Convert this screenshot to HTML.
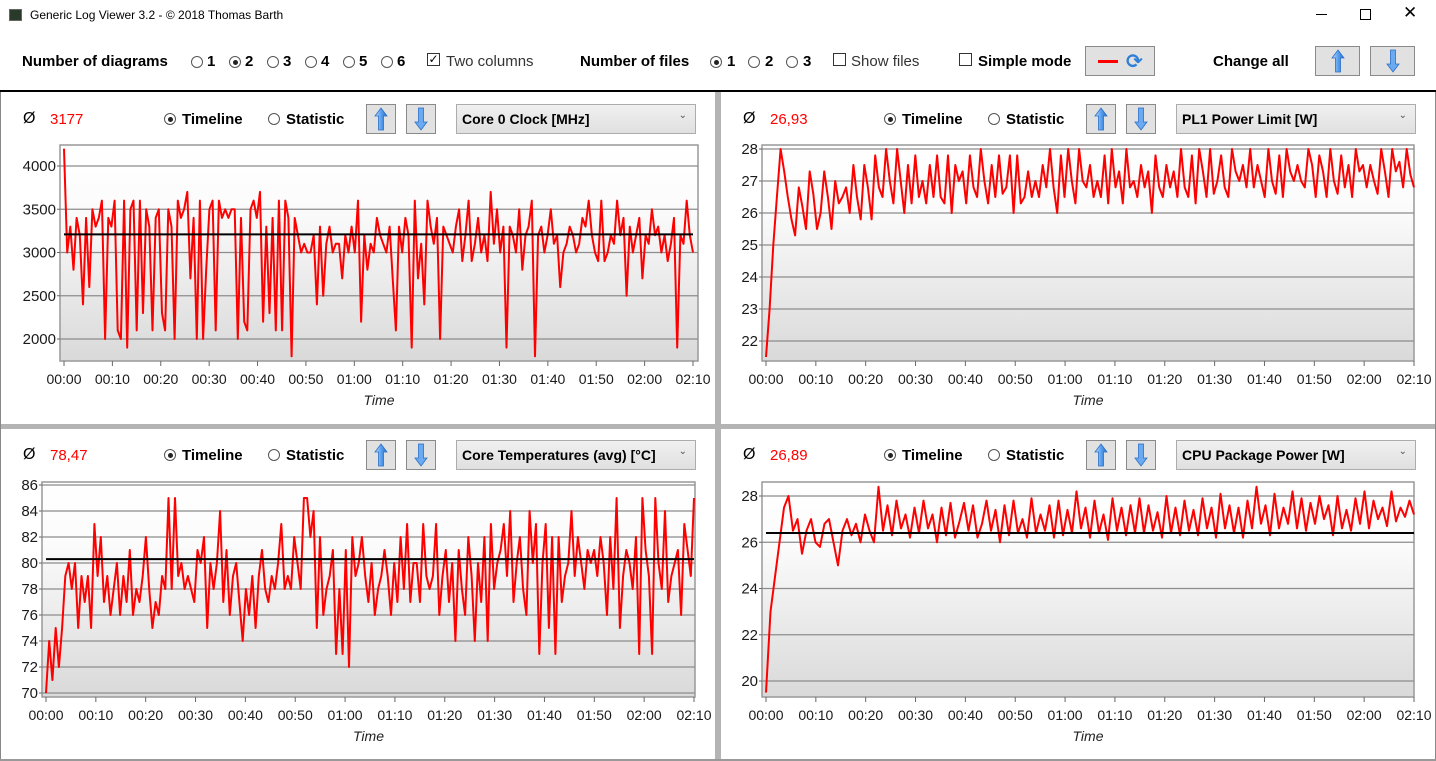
<!DOCTYPE html>
<html><head><meta charset="utf-8">
<style>
body{margin:0;width:1436px;height:761px;overflow:hidden;background:#fff;font-family:"Liberation Sans","DejaVu Sans",sans-serif;position:relative;color:#000}
.a{position:absolute;white-space:nowrap}
.b{font-weight:bold;font-size:15px}
.n{font-size:15px}
.radio{position:absolute;width:10px;height:10px;border:1px solid #555;border-radius:50%;background:#fff}
.radio.on::after{content:"";position:absolute;left:2.5px;top:2.5px;width:5px;height:5px;border-radius:50%;background:#222}
.chk{position:absolute;width:11px;height:11px;border:1px solid #333;background:#fff;font-size:12px;line-height:11px;text-align:center}
.btn{position:absolute;background:#e1e1e1;border:1px solid #8a8a8a;box-sizing:border-box}
.btn svg{position:absolute;left:50%;top:50%;transform:translate(-50%,-50%)}
.dd{position:absolute;background:linear-gradient(#f0f0f0,#e0e0e0);border:1px solid #acacac;box-sizing:border-box;font-weight:bold;font-size:14px;padding:6px 0 0 5px}
.dd span{position:absolute;right:8px;top:5px;font-size:10px;color:#555;font-weight:normal}
</style></head><body>
<div class="a" style="left:0;top:0;width:1436px;height:30px">
 <div class="a" style="left:9px;top:9px;width:11px;height:10px;background:#2a3a2a;border:1px solid #666"></div>
 <div class="a" style="left:30px;top:8px;font-size:12px">Generic Log Viewer 3.2 - © 2018 Thomas Barth</div>
 <div class="a" style="left:1316px;top:14px;width:11px;height:1px;background:#000"></div>
 <div class="a" style="left:1360px;top:9px;width:9px;height:9px;border:1px solid #000"></div>
 <div class="a" style="left:1403px;top:3px;font-size:17px">✕</div>
</div>
<div class="a b" style="left:22px;top:53px">Number of diagrams</div>
<div class="radio" style="left:191px;top:56px"></div><div class="a b" style="left:207px;top:53px">1</div>
<div class="radio on" style="left:229px;top:56px"></div><div class="a b" style="left:245px;top:53px">2</div>
<div class="radio" style="left:267px;top:56px"></div><div class="a b" style="left:283px;top:53px">3</div>
<div class="radio" style="left:305px;top:56px"></div><div class="a b" style="left:321px;top:53px">4</div>
<div class="radio" style="left:343px;top:56px"></div><div class="a b" style="left:359px;top:53px">5</div>
<div class="radio" style="left:381px;top:56px"></div><div class="a b" style="left:397px;top:53px">6</div>
<div class="chk" style="left:427px;top:53px">✓</div><div class="a n" style="left:446px;top:53px;color:#333">Two columns</div>
<div class="a b" style="left:580px;top:53px">Number of files</div>
<div class="radio on" style="left:710px;top:56px"></div><div class="a b" style="left:727px;top:53px">1</div>
<div class="radio" style="left:748px;top:56px"></div><div class="a b" style="left:765px;top:53px">2</div>
<div class="radio" style="left:786px;top:56px"></div><div class="a b" style="left:803px;top:53px">3</div>
<div class="chk" style="left:833px;top:53px"></div><div class="a n" style="left:851px;top:53px;color:#333">Show files</div>
<div class="chk" style="left:959px;top:53px"></div><div class="a b" style="left:978px;top:53px">Simple mode</div>
<div class="btn" style="left:1085px;top:46px;width:70px;height:30px">
 <div class="a" style="left:12px;top:13px;width:20px;height:3px;background:#f00"></div>
 <div class="a" style="left:40px;top:2px;font-size:20px;color:#2f7fd8;font-weight:bold">⟳</div>
</div>
<div class="a b" style="left:1213px;top:53px">Change all</div>
<div class="btn arr-up" style="left:1315px;top:46px;width:45px;height:30px"></div>
<div class="btn arr-down" style="left:1370px;top:46px;width:45px;height:30px"></div>
<div class="a" style="left:0;top:90px;width:1436px;height:2px;background:#000"></div>
<div class="a" style="left:715px;top:92px;width:6px;height:669px;background:#b4b4b4"></div>
<div class="a" style="left:0;top:424px;width:1436px;height:5px;background:#b4b4b4"></div>
<div class="a" style="left:0;top:92px;width:1px;height:669px;background:#888"></div>
<div class="a" style="left:1435px;top:92px;width:1px;height:669px;background:#888"></div>
<div class="a" style="left:0;top:759px;width:1436px;height:2px;background:#999"></div>

<div id="headers"></div>
<svg id="charts" class="a" style="left:0;top:0" width="1436" height="761">
<defs><linearGradient id="bg" x1="0" y1="0" x2="0" y2="1"><stop offset="0" stop-color="#fff"/><stop offset="0.3" stop-color="#fbfbfb"/><stop offset="1" stop-color="#d9d9d9"/></linearGradient></defs>
</svg>
<script>
const clockValues=[4200,3000,3300,2800,3400,3200,2400,3400,2600,3500,3300,3400,3600,2000,3400,3300,3600,2100,2000,3600,1900,3500,3600,2100,3600,2300,3500,3300,2100,3400,3500,2300,2100,3500,3300,2000,3600,3400,3500,3700,2700,3400,2000,3600,2000,2800,3500,3600,2100,3600,3400,3500,3400,3500,3500,2000,3400,2200,2100,3500,3600,3400,3700,2200,3300,2300,3400,2100,3600,2100,3600,3400,1800,3400,3200,3000,3100,3000,3000,3200,2400,3300,2500,3100,3300,3000,3100,3100,2700,3200,3000,3300,3000,3600,2200,3200,2800,3100,3000,3400,3200,3100,3000,3300,2700,2100,3300,3000,3400,3200,1900,3600,2700,3100,2400,3600,3300,3100,3400,2000,3300,3200,3100,3000,3300,3500,2900,3200,3600,2900,3100,3400,3000,3200,2900,3700,3100,3500,3000,3300,1900,3300,3200,3000,3500,2800,3200,3300,3600,1800,3200,3300,3000,3200,3500,3100,3200,2600,3000,3100,3300,3200,3000,3100,3400,3300,3600,3200,3000,2900,3600,2900,3000,3200,3100,3600,3200,3400,2500,3300,3000,3200,3400,2700,3200,3100,3500,3200,3300,3000,3200,2900,3100,3400,1900,3200,3100,3600,3200,3000];
const pl1Values=[21.5,23,25,26.5,28,27.3,26.5,25.8,25.3,26.8,26.2,25.5,27.3,26.6,25.5,26,27.3,26.5,25.5,27,26.3,26.5,26.8,26,27.5,26.5,25.8,27.5,26.8,25.8,27.8,26.8,26.5,28,27,26.3,28,27,26,27.5,26.3,27.8,26.5,27,26.3,27.5,26.5,27.8,26.5,26.3,27.8,26,27.5,27,27.3,26.3,27.8,26.8,26.5,28,27,26.3,27.5,26.5,27.8,26.6,26.8,27.8,26,27.8,26.3,26.5,27.3,26.5,27,26.5,27.5,26.8,28,26.8,26,27.8,26.5,28,27,26.3,28,27,26.8,27.5,26.5,27,26.5,27.8,26.3,28,26.8,27.3,26.3,28,26.8,27,26.5,27.5,26.8,27.3,26,27.8,26.8,26.5,27.5,26.8,27.3,26.5,28,26.8,26.5,27.8,26.3,28,27.3,26.5,28,26.6,27,27.8,26.8,26.5,28,27.3,27,27.5,26.8,28,26.8,27.5,27,26.5,28,27,26.6,27.8,26.5,28,27.3,27,27.5,27,26.8,28,27.5,26.5,27.8,27.3,26.5,28,27,26.6,27.8,26.8,27.5,26.5,28,27.3,27.5,26.8,27.5,27,26.6,28,27.3,26.5,28,27.3,27.6,26.8,28,27.2,26.8];
const tempValues=[70,74,71,75,72,75,79,80,78,80,75,79,77,79,75,83,79,82,77,79,76,78,80,76,79,77,81,76,78,77,79,82,78,75,77,76,79,78,85,78,85,79,80,78,79,78,77,81,80,82,75,80,78,80,84,77,81,76,79,80,77,74,78,76,79,75,79,81,78,77,79,78,80,83,78,79,78,82,80,78,85,85,82,84,75,82,76,78,79,81,73,78,73,81,72,82,79,80,82,79,77,80,76,78,79,81,79,76,80,77,82,78,83,77,80,80,77,83,79,78,79,83,76,79,81,77,80,74,81,78,76,82,79,74,80,77,82,74,83,78,80,81,83,79,84,77,80,82,78,76,84,80,83,73,80,83,75,82,73,82,77,79,80,84,79,82,80,78,81,80,81,79,82,80,76,82,78,85,75,79,81,80,78,82,73,85,81,79,73,85,80,78,84,77,79,80,81,76,83,81,79,85];
const pkgValues=[19.5,23,24.5,26,27.5,28,26.5,27,25.5,26.5,27,26,25.8,26.8,27,26,25,26.5,27,26.3,26.8,26,27.2,26.5,26,28.4,26.5,27.6,26.3,27.8,26.6,27.2,26.2,27.5,26.4,27.8,26.6,27.2,26,27.5,26.3,27.7,26.2,26.9,27.7,26.5,27.6,26.2,26.8,27.8,26.5,27.4,26,27.6,26.3,27.8,26.4,27,26.2,27.9,26.4,27.2,26.5,27.6,26.2,27.8,26.3,27.4,26.4,28.2,26.6,27.5,26.2,27.8,26.4,27.2,26.1,27.9,26.5,27.5,26.3,27.6,26.4,27.9,26.4,27.6,26.5,27.3,26.2,28,26.4,27.5,26.3,27.8,26.5,27.4,26.3,27.9,26.6,27.5,26.2,28.1,26.6,27.6,26.4,27.5,26.2,27.8,26.6,28.4,26.8,27.6,26.3,28.1,26.6,27.5,26.8,28.2,26.6,27.9,26.5,27.7,26.8,28,27,27.6,26.3,28,26.6,27.4,26.5,27.9,26.8,28.2,26.6,27.8,27,27.5,26.7,28.2,26.9,27.5,27.1,27.8,27.2];
const averages=[3210,null,80.3,26.4];
const avgLabels=["3177","26,93","78,47","26,89"];
const sensorNames=["Core 0 Clock [MHz]","PL1 Power Limit [W]","Core Temperatures (avg) [°C]","CPU Package Power [W]"];
const clockTicks=[2000,2500,3000,3500,4000];
const pl1Ticks=[22,23,24,25,26,27,28];
const tempTicks=[70,72,74,76,78,80,82,84,86];
const pkgTicks=[20,22,24,26,28];
const timeTicks=["00:00","00:10","00:20","00:30","00:40","00:50","01:00","01:10","01:20","01:30","01:40","01:50","02:00","02:10"];
const durationMin=130;

const ARROW_UP='<svg width="14" height="24" viewBox="0 0 14 24"><defs><linearGradient id="ag" x1="0" x2="1"><stop offset="0" stop-color="#bfe0ff"/><stop offset="0.5" stop-color="#5aa0ee"/><stop offset="1" stop-color="#2a70d0"/></linearGradient></defs><polygon points="7,1 13,9 9.5,9 9.5,23 4.5,23 4.5,9 1,9" fill="url(#ag)" stroke="#2c6fc7" stroke-width="0.8"/></svg>';
const ARROW_DOWN='<svg width="14" height="24" viewBox="0 0 14 24"><polygon points="7,23 13,15 9.5,15 9.5,1 4.5,1 4.5,15 1,15" fill="#6aaaf0" stroke="#2c6fc7" stroke-width="0.8"/></svg>';

const svg=document.getElementById('charts');
const NS='http://www.w3.org/2000/svg';
function mk(tag,attrs,parent){const e=document.createElementNS(NS,tag);for(const k in attrs)e.setAttribute(k,attrs[k]);(parent||svg).appendChild(e);return e;}
const charts=[
 {v:clockValues,t:clockTicks,box:[60,145,698,361],x0:64,x1:693,ya:[2000,339],yb:[4000,166],px:0,py:90},
 {v:pl1Values,t:pl1Ticks,box:[762,145,1414,361],x0:766,x1:1414,ya:[22,341],yb:[28,149],px:720,py:90},
 {v:tempValues,t:tempTicks,box:[42,482,695,697],x0:46,x1:694,ya:[70,693],yb:[86,485],px:0,py:426},
 {v:pkgValues,t:pkgTicks,box:[762,482,1414,697],x0:766,x1:1414,ya:[20,681],yb:[28,496],px:720,py:426}
];
const hdr=document.getElementById('headers');
charts.forEach((c,i)=>{
 const [L,T,R,B]=c.box;
 const yS=v=>c.ya[1]+(v-c.ya[0])*(c.yb[1]-c.ya[1])/(c.yb[0]-c.ya[0]);
 const xS=m=>c.x0+m*(c.x1-c.x0)/durationMin;
 const g=mk('g',{});
 
 
 const bgRect=mk('rect',{x:L,y:T,width:R-L,height:B-T,fill:'url(#bg)',stroke:'#999','stroke-width':1.5},g);
 
 
 c.t.forEach(tv=>{
  const y=yS(tv);
  const gl=mk('line',{x1:L,x2:R,y1:y,y2:y,stroke:'#8c8c8c','stroke-width':1.3},g);
  
  
  mk('line',{x1:L-3,x2:L,y1:y,y2:y,stroke:'#666'},g);
  const tx=mk('text',{x:L-4,y:y+5,'text-anchor':'end','font-size':15,fill:'#1a1a1a'},g);
  tx.textContent=tv;
  
  
 });
 timeTicks.forEach((lab,k)=>{
  const x=xS(k*10);
  mk('line',{x1:x,x2:x,y1:B,y2:B+5,stroke:'#666'},g);
  const tx=mk('text',{x:x,y:B+23,'text-anchor':'middle','font-size':14,fill:'#1a1a1a'},g);
  tx.textContent=lab;
  
  
 });
 const at=mk('text',{x:(L+R)/2,y:B+44,'text-anchor':'middle','font-size':14,'font-style':'italic',fill:'#222'},g);
 at.textContent='Time';
 
 
 const n=c.v.length;
 const pts=c.v.map((v,k)=>xS(k*durationMin/(n-1)).toFixed(1)+','+yS(v).toFixed(1)).join(' ');
 const pl=mk('polyline',{points:pts,fill:'none',stroke:'#ff0000','stroke-width':2,'stroke-linejoin':'round'},g);
 
 
 if(averages[i]!==null){
  const al=mk('line',{x1:c.x0,x2:c.x1,y1:yS(averages[i]),y2:yS(averages[i]),stroke:'#000','stroke-width':2},g);
  
  
 }
 const px=c.px, py=c.py;
 const h=document.createElement('div');
 h.className='a';
 h.style.cssText='left:'+px+'px;top:'+py+'px;width:716px;height:50px';
 
 
 h.innerHTML='<div class="a" style="left:23px;top:20px;font-size:16px">Ø</div>'+
 '<div class="a" style="left:50px;top:21px;font-size:15px;color:#f00">'+avgLabels[i]+'</div>'+
 '<div class="radio on" style="left:164px;top:23px"></div>'+
 '<div class="a b" style="left:182px;top:21px">Timeline</div>'+
 '<div class="radio" style="left:268px;top:23px"></div>'+
 '<div class="a b" style="left:286px;top:21px">Statistic</div>'+
 '<div class="btn" style="left:366px;top:14px;width:30px;height:30px">'+ARROW_UP+'</div>'+
 '<div class="btn" style="left:406px;top:14px;width:30px;height:30px">'+ARROW_DOWN+'</div>'+
 '<div class="dd" style="left:456px;top:14px;width:240px;height:30px">'+sensorNames[i]+'<span>⌄</span></div>';
 hdr.appendChild(h);
});
document.querySelector('.arr-up').innerHTML=ARROW_UP;
document.querySelector('.arr-down').innerHTML=ARROW_DOWN;
</script>
</body></html>
